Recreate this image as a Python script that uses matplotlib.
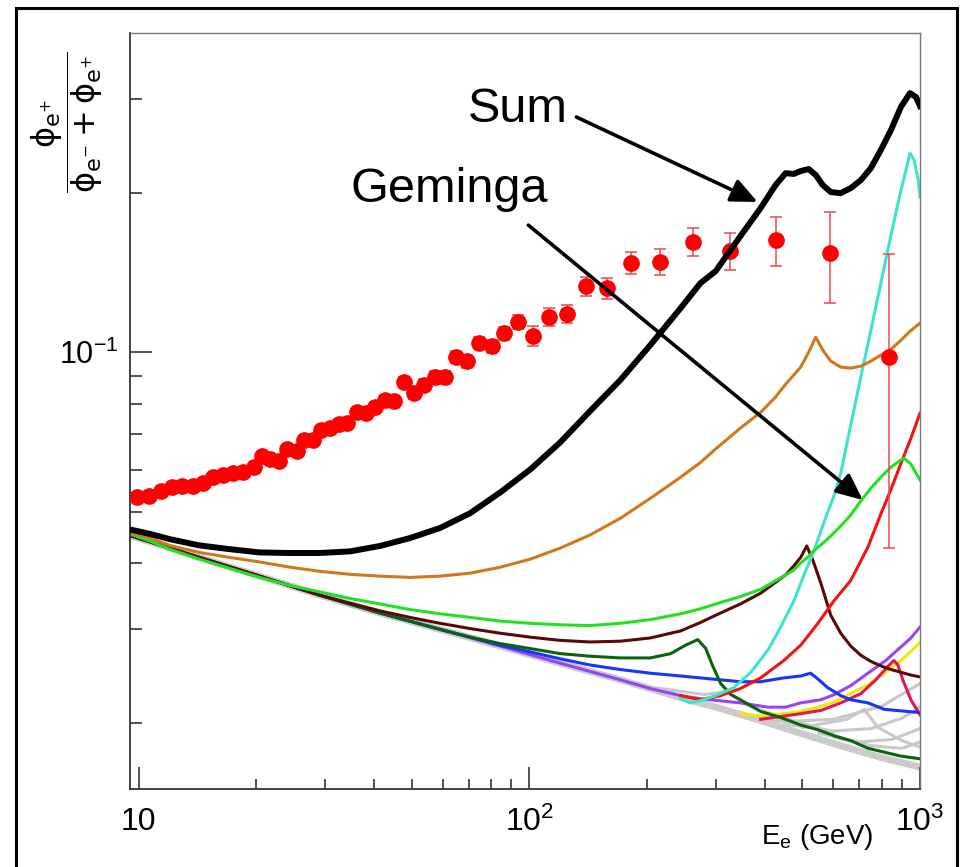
import matplotlib
matplotlib.use("Agg")
import matplotlib.pyplot as plt
from matplotlib.patches import Rectangle

plt.rcParams['font.family'] = ['Liberation Sans', 'DejaVu Sans']
plt.rcParams['mathtext.fontset'] = 'custom'
plt.rcParams['mathtext.rm'] = 'Liberation Sans'
plt.rcParams['mathtext.it'] = 'Liberation Sans:italic'
plt.rcParams['mathtext.bf'] = 'Liberation Sans:bold'

# positron fraction measurements (energy in GeV)
ams_E = [9.9, 10.6, 11.4, 12.2, 12.9, 13.8, 14.6, 15.5, 16.4, 17.4,
         18.5, 19.7, 20.7, 21.7, 22.9, 24.0, 25.4, 26.5, 27.9, 29.3,
         30.9, 32.6, 34.2, 36.2, 38.2, 40.3, 42.7, 45.1, 47.8, 50.7,
         53.8, 57.4, 60.9, 65.0, 69.3, 74.4, 80.4, 86.3, 93.7, 102.4,
         112.5, 125.2, 140.0, 158.5, 182.6, 215.4, 261.8, 325.7, 427.3, 587.8, 832.6]
ams_f = [0.0532, 0.0535, 0.0547, 0.0556, 0.0559, 0.0559, 0.0566, 0.0581, 0.0586, 0.0591,
         0.0594, 0.0607, 0.0637, 0.0628, 0.0623, 0.0656, 0.0650, 0.0682, 0.0682, 0.0713,
         0.0719, 0.0731, 0.0734, 0.0770, 0.0767, 0.0788, 0.0812, 0.0808, 0.0878, 0.0837,
         0.0866, 0.0897, 0.0897, 0.0978, 0.0962, 0.1040, 0.1026, 0.1086, 0.1139, 0.1072,
         0.1164, 0.1180, 0.1332, 0.1320, 0.1472, 0.1479, 0.1613, 0.1551, 0.1627, 0.1537, 0.0978]
ams_err = [0.0008, 0.0008, 0.0008, 0.0008, 0.0008, 0.0009, 0.0009, 0.0009, 0.0009, 0.0010,
           0.0010, 0.0010, 0.0011, 0.0011, 0.0011, 0.0012, 0.0012, 0.0013, 0.0013, 0.0014,
           0.0014, 0.0015, 0.0015, 0.0016, 0.0017, 0.0018, 0.0019, 0.0020, 0.0021, 0.0022,
           0.0023, 0.0024, 0.0025, 0.0026, 0.0027, 0.0028, 0.0030, 0.0031, 0.0034, 0.0046,
           0.0046, 0.0047, 0.0055, 0.0060, 0.0070, 0.0083, 0.0098, 0.0125, 0.0172, 0.0300, 0.0551]

# model curves
sum_E = [9.5, 10.7, 12.0, 14.3, 17.1, 20.4, 24.4, 29.1, 34.8, 41.5, 49.5, 59.1, 70.6, 84.3,
         100.6, 120, 143, 171, 204, 244, 274, 300, 347, 391, 427, 453, 475, 495, 519, 541,
         564, 591, 627, 665, 706, 749, 794, 843, 894, 943, 977, 1000]
sum_f = [0.0463, 0.0454, 0.0444, 0.0432, 0.0425, 0.0419, 0.0418, 0.0418, 0.0421, 0.0431,
         0.0446, 0.0466, 0.0497, 0.0544, 0.0601, 0.0676, 0.0774, 0.0886, 0.1031, 0.1211,
         0.1349, 0.1422, 0.1655, 0.1870, 0.2066, 0.2176, 0.2168, 0.2196, 0.2215, 0.2158,
         0.2066, 0.2004, 0.1995, 0.2039, 0.2111, 0.2225, 0.2405, 0.2624, 0.2901, 0.3080,
         0.3028, 0.2913]

orange_E = [9.5, 10.7, 12.0, 14.3, 17.1, 20.4, 24.4, 29.1, 34.8, 41.5, 49.5, 59.1, 70.6,
            84.3, 100.6, 120, 143, 171, 204, 244, 274, 300, 347, 391, 427, 453, 475, 495,
            519, 541, 564, 591, 627, 665, 706, 749, 794, 843, 894, 943, 1000]
orange_f = [0.0458, 0.0446, 0.0432, 0.0419, 0.0410, 0.0402, 0.0393, 0.0386, 0.0381, 0.0378,
            0.0376, 0.0378, 0.0383, 0.0393, 0.0407, 0.0427, 0.0452, 0.0486, 0.0530, 0.0581,
            0.0619, 0.0657, 0.0719, 0.0770, 0.0823, 0.0870, 0.0905, 0.0937, 0.1000, 0.1067,
            0.1009, 0.0962, 0.0937, 0.0933, 0.0941, 0.0962, 0.0987, 0.1013, 0.1053, 0.1095,
            0.1134]

geminga_E = [9.5, 10.7, 12.0, 14.3, 17.1, 20.4, 24.4, 29.1, 34.8, 41.5, 49.5, 59.1, 70.6,
             84.3, 100.6, 120, 143, 171, 204, 244, 274, 300, 347, 391, 453, 475, 495, 519,
             541, 564, 591, 627, 665, 706, 749, 794, 843, 894, 910, 948, 1000]
geminga_f = [0.0454, 0.0440, 0.0425, 0.0407, 0.0391, 0.0376, 0.0363, 0.0353, 0.0343, 0.0335,
             0.0327, 0.0321, 0.0316, 0.0311, 0.0308, 0.0306, 0.0305, 0.0308, 0.0313, 0.0321,
             0.0328, 0.0335, 0.0346, 0.0357, 0.0380, 0.0388, 0.0400, 0.0412, 0.0425, 0.0436,
             0.0450, 0.0470, 0.0493, 0.0524, 0.0554, 0.0581, 0.0607, 0.0626, 0.0631, 0.0615,
             0.0574]

maroon_E = [9.5, 14.3, 20.4, 29.1, 34.8, 41.5, 49.5, 59.1, 70.6, 84.3, 100.6, 120, 143,
            171, 204, 244, 274, 300, 347, 391, 427, 453, 475, 495, 513, 532, 558, 591, 627,
            665, 706, 749, 794, 843, 894, 948, 1000]
maroon_f = [0.0451, 0.0410, 0.0378, 0.0348, 0.0336, 0.0325, 0.0316, 0.0308, 0.0301, 0.0295,
            0.0290, 0.0286, 0.0284, 0.0285, 0.0289, 0.0298, 0.0309, 0.0319, 0.0335, 0.0351,
            0.0368, 0.0380, 0.0395, 0.0410, 0.0431, 0.0405, 0.0366, 0.0319, 0.0295, 0.0279,
            0.0268, 0.0261, 0.0256, 0.0252, 0.0249, 0.0246, 0.0244]

dkgreen_E = [9.5, 14.3, 20.4, 29.1, 41.5, 59.1, 70.6, 84.3, 100.6, 120, 143, 171, 204, 230,
             251, 270, 283, 294, 309, 328, 347, 391, 427, 453, 495, 548, 603, 665, 736, 810,
             894, 1000]
dkgreen_f = [0.0451, 0.0410, 0.0378, 0.0348, 0.0322, 0.0300, 0.0290, 0.0282, 0.0276, 0.0270,
             0.0267, 0.0265, 0.0265, 0.0270, 0.0280, 0.0287, 0.0276, 0.0257, 0.0237, 0.0226,
             0.0221, 0.0210, 0.0206, 0.0203, 0.0198, 0.0194, 0.0189, 0.0185, 0.0179, 0.0176,
             0.0173, 0.0171]

blue_E = [9.5, 14.3, 20.4, 29.1, 41.5, 59.1, 70.6, 84.3, 100.6, 120, 143, 171, 204, 244,
          274, 347, 391, 448, 495, 525, 551, 580, 627, 665, 736, 810, 1000]
blue_f = [0.0451, 0.0410, 0.0378, 0.0348, 0.0322, 0.0300, 0.0290, 0.0280, 0.0272, 0.0264,
          0.0257, 0.0252, 0.0248, 0.0245, 0.0243, 0.0239, 0.0239, 0.0243, 0.0245, 0.0248,
          0.0241, 0.0233, 0.0225, 0.0221, 0.0218, 0.0212, 0.0209]

purple_E = [9.5, 14.3, 20.4, 29.1, 41.5, 59.1, 84.3, 120, 171, 204, 244, 274, 347, 408,
            453, 495, 558, 603, 665, 736, 817, 894, 948, 1000]
purple_f = [0.0451, 0.0410, 0.0378, 0.0348, 0.0322, 0.0300, 0.0279, 0.0259, 0.0241, 0.0232,
            0.0225, 0.0222, 0.0218, 0.0214, 0.0214, 0.0218, 0.0221, 0.0226, 0.0235, 0.0248,
            0.0262, 0.0278, 0.0289, 0.0303]

yellow_E = [347, 391, 448, 495, 548, 603, 665, 736, 810, 894, 1000]
yellow_f = [0.0208, 0.0206, 0.0208, 0.0210, 0.0214, 0.0219, 0.0227, 0.0236, 0.0248, 0.0262,
            0.0283]

crimson_E = [391, 495, 558, 627, 706, 771, 830, 858, 878, 904, 948, 1000]
crimson_f = [0.0203, 0.0208, 0.0211, 0.0218, 0.0227, 0.0241, 0.0256, 0.0262, 0.0257, 0.0241,
             0.0221, 0.0207]

red_E = [244, 274, 309, 347, 391, 448, 495, 548, 603, 665, 736, 794, 843, 894, 948, 1000]
red_f = [0.0225, 0.0221, 0.0225, 0.0232, 0.0243, 0.0262, 0.0280, 0.0308, 0.0340, 0.0371,
         0.0429, 0.0495, 0.0551, 0.0617, 0.0688, 0.0767]

cyan_E = [244, 258, 274, 300, 334, 369, 408, 440, 476, 505, 536, 568, 603, 627, 665, 719,
          749, 794, 843, 894, 921, 943, 966, 990, 1000]
cyan_f = [0.0222, 0.0218, 0.0220, 0.0225, 0.0233, 0.0249, 0.0274, 0.0303, 0.0340, 0.0380,
          0.0423, 0.0478, 0.0537, 0.0591, 0.0729, 0.0958, 0.1100, 0.1349, 0.1662, 0.2021,
          0.2205, 0.2374, 0.2303, 0.2112, 0.1961]

# secondary-only background and the faint far-away sources
base_E = [9.5, 14.3, 20.4, 29.1, 41.5, 59.1, 84.3, 120, 171, 244, 300, 391, 495, 627,
          794, 1000]
base_f = [0.0451, 0.0410, 0.0378, 0.0348, 0.0322, 0.0300, 0.0279, 0.0259, 0.0241, 0.0223,
          0.0214, 0.0202, 0.0191, 0.0181, 0.0172, 0.0165]

grey_curves = [
    ([350, 450, 600, 800, 1000], [0.0207, 0.0201, 0.0203, 0.0215, 0.0237]),
    ([450, 600, 750, 900, 1000], [0.0199, 0.0193, 0.0195, 0.0204, 0.0214]),
    ([550, 700, 850, 1000], [0.0191, 0.0184, 0.0186, 0.0195]),
    ([600, 750, 900, 1000], [0.0188, 0.0181, 0.0179, 0.0184]),
    ([500, 650, 720, 780, 900, 1000], [0.0196, 0.0203, 0.0212, 0.0196, 0.0185, 0.0180]),
    ([200, 280, 320, 360, 450, 600], [0.0234, 0.0226, 0.0229, 0.0216, 0.0204, 0.0192]),
]

fig = plt.figure(figsize=(9.63, 8.67), dpi=100)
ax = fig.add_axes([0.135, 0.090, 0.8203, 0.872])

ax.plot(base_E, base_f, color='#cbcbcb', lw=5, zorder=1, solid_capstyle='butt')
for gE, gf in grey_curves:
    ax.plot(gE, gf, color='#c8c8c8', lw=2.2, zorder=1)

curves = [
    (purple_E, purple_f, '#9944f2'),
    (yellow_E, yellow_f, '#f4e60c'),
    (crimson_E, crimson_f, '#e3174f'),
    (blue_E, blue_f, '#1836f5'),
    (dkgreen_E, dkgreen_f, '#0d620d'),
    (maroon_E, maroon_f, '#5a0808'),
    (red_E, red_f, '#f01414'),
    (cyan_E, cyan_f, '#3fe3cc'),
    (geminga_E, geminga_f, '#22e022'),
    (orange_E, orange_f, '#cf781e'),
]
for cE, cf, col in curves:
    ax.plot(cE, cf, color=col, lw=2.2, zorder=2, solid_joinstyle='round')

ax.errorbar(ams_E, ams_f, yerr=ams_err, fmt='o', ms=11, color='#ff0000',
            ecolor='#e84a4e', elinewidth=1.1, capsize=4.5, capthick=1.1, zorder=3)

ax.plot(sum_E, sum_f, color='black', lw=4.3, zorder=4, solid_joinstyle='round')

# labels with arrows
ax.text(93.7, 0.2716, 'Sum', ha='center', va='baseline', fontsize=35, zorder=5)
ax.text(62.4, 0.192, 'Geminga', ha='center', va='baseline', fontsize=35, zorder=5)
arrow = dict(arrowstyle='-|>,head_length=1.0,head_width=0.45', mutation_scale=16,
             lw=2.6, color='black', shrinkA=0, shrinkB=0)
ax.annotate('', xy=(384, 0.192), xytext=(132, 0.2776), arrowprops=arrow, zorder=5)
ax.annotate('', xy=(714, 0.0526), xytext=(99.4, 0.1736), arrowprops=arrow, zorder=5)

ax.set_xscale('log')
ax.set_yscale('log')
ax.set_xlim(9.5, 1000)
ax.set_ylim(0.015, 0.4)

ax.set_xticks([10, 100, 1000], labels=['10', r'$10^{2}$', r'$10^{3}$'])
ax.set_xticks([20, 30, 40, 50, 60, 70, 80, 90, 200, 300, 400, 500, 600, 700, 800, 900],
              minor=True)
ax.set_yticks([0.1], labels=[r'$10^{-1}$'])
ax.set_yticks([0.02, 0.03, 0.04, 0.05, 0.06, 0.07, 0.08, 0.09, 0.2, 0.3], minor=True)
ax.xaxis.set_minor_formatter(plt.NullFormatter())
ax.yaxis.set_minor_formatter(plt.NullFormatter())

ax.tick_params(which='both', direction='in', color='#333333', width=1.2,
               top=False, right=False)
ax.tick_params(axis='x', which='major', length=16, labelsize=23, pad=13)
ax.tick_params(axis='x', which='minor', length=7.5)
ax.tick_params(axis='y', which='major', length=16, labelsize=22, pad=8)
ax.tick_params(axis='y', which='minor', length=8.5)
for side in ['left', 'bottom']:
    ax.spines[side].set_color('#333333')
    ax.spines[side].set_linewidth(1.3)
for side in ['top', 'right']:
    ax.spines[side].set_color('#777777')
    ax.spines[side].set_linewidth(1.0)

fig.text(0.849, 0.027, r'E$_\mathrm{e}$ (GeV)', fontsize=20, ha='center', va='baseline',
         family=['Liberation Sans Narrow', 'Liberation Sans'])
fig.text(0.0696, 0.859,
         r'$\dfrac{\mathrm{ϕ}_{\mathrm{e}^{+}}}{\mathrm{ϕ}_{\mathrm{e}^{-}} + \mathrm{ϕ}_{\mathrm{e}^{+}}}$',
         fontsize=23, rotation=90, ha='center', va='center', math_fontfamily='dejavusans')

fig.patches.append(Rectangle((0.0166, -0.05), 0.9772, 1.0408, transform=fig.transFigure,
                             fill=False, lw=2.2, ec='black'))

fig.savefig('out.png', dpi=100)
